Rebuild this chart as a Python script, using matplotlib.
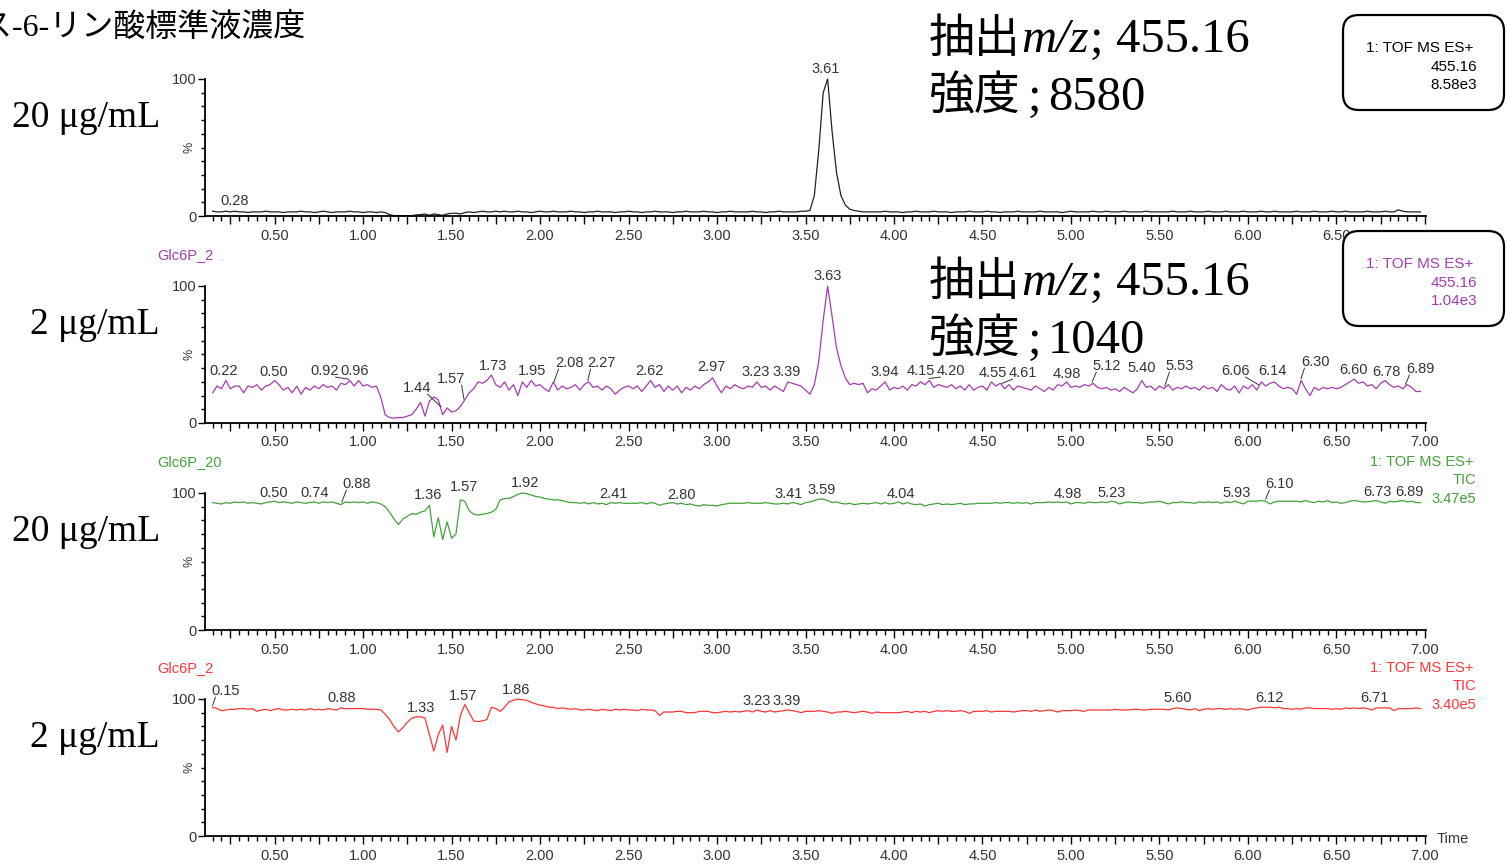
import numpy as np
import matplotlib
matplotlib.use("Agg")
import matplotlib.pyplot as plt
from matplotlib.ticker import MultipleLocator, FuncFormatter
from matplotlib.patches import FancyBboxPatch
from matplotlib.transforms import IdentityTransform

W, H = 1506, 864

#%% DATA
# scan times (min): one point every 0.025 min from 0.15 to 6.975
times = np.round(np.arange(0.15, 6.9751, 0.025), 3)

# XIC m/z 455.16, 20 ug/mL (% of max)
black_20_xic = [
    3.5, 3, 3, 3.5, 3, 3.5, 3, 3, 2.5, 3,
    3, 3, 3.5, 3, 3, 3, 2.5, 3, 3, 3,
    3.5, 3, 3, 2.5, 3, 3.5, 3, 2.5, 3, 3,
    3, 3.5, 3, 3, 2.5, 3, 3, 2.5, 3, 2.5,
    1, 0.3, 0.2, 0.2, 0.3, 0.2, 0.8, 1, 1.5, 0.5,
    1.5, 1, 0.5, 1.5, 2, 2, 1.5, 2.5, 3, 2.5,
    3, 3.5, 3, 3, 3.5, 3, 3.5, 3, 3, 3.5,
    3, 3, 2.5, 3, 3.5, 3, 3, 3.5, 3, 3,
    3, 3.5, 3, 3, 2.5, 3, 3, 3.5, 3, 3,
    3, 2.5, 3, 3, 3.5, 3, 3, 2.5, 3, 3,
    3.5, 3, 3, 3, 2.5, 3, 3, 3.5, 3, 3,
    3, 3.5, 3, 3, 2.5, 3, 3, 3.5, 3, 3,
    3, 3, 3.5, 3, 3, 2.5, 3, 3, 3.5, 3,
    3, 3, 3, 3.5, 3.5, 4, 15, 48, 90, 100,
    62, 32, 15, 8, 5, 4, 3.5, 3, 3, 3,
    3, 3, 3.5, 3, 3, 3, 2.5, 3, 3, 3.5,
    3, 3, 3, 3.5, 3, 3, 3, 2.5, 3, 3,
    3, 3.5, 3, 3, 3, 3.5, 3, 3, 2.5, 3,
    3, 3, 3.5, 3, 3, 3, 3, 3.5, 3, 3,
    3, 3, 2.5, 3, 3.5, 3, 3, 3, 3, 3.5,
    3, 3, 3.5, 3, 3, 3, 3.5, 3, 3, 3,
    3, 3.5, 3, 3, 3, 3, 3, 3.5, 3, 3,
    3, 3.5, 3, 3, 3, 3.5, 3, 3, 3, 3.5,
    3, 3, 3, 3.5, 3, 3, 3, 3.5, 3, 3,
    3.5, 3, 3, 3, 3, 3.5, 3, 3, 3, 3.5,
    3, 3, 3, 3.5, 3, 3, 3.5, 3, 3, 3,
    3, 3.5, 3, 3, 3, 3.5, 3, 3, 4.5, 3.5,
    3, 3, 3, 3,
]

# XIC m/z 455.16, 2 ug/mL
purple_2_xic = [
    22, 27, 25, 31, 25, 27, 27, 22, 27, 26,
    28, 24, 27, 28, 31, 28, 24, 26, 22, 27,
    21, 26, 24, 27, 25, 28, 26, 27, 24, 29,
    28, 31, 27, 31, 27, 28, 26, 27, 19, 6,
    4, 3.5, 4, 4, 5, 6, 10, 15, 5, 16,
    19, 17, 6, 11, 8, 9, 12, 17, 22, 25,
    30, 29, 31, 35, 28, 26, 30, 24, 28, 20,
    30, 26, 31, 27, 28, 25, 23, 30, 24, 27,
    25, 26, 28, 24, 28, 30, 26, 27, 24, 27,
    25, 21, 24, 26, 27, 25, 27, 23, 27, 31,
    26, 28, 23, 27, 24, 27, 22, 26, 24, 27,
    25, 28, 30, 33, 27, 22, 27, 25, 28, 26,
    25, 27, 26, 30, 26, 27, 24, 27, 25, 23,
    30, 29, 28, 27, 24, 21, 28, 45, 75, 100,
    78, 55, 42, 33, 28, 29, 28, 29, 22, 25,
    24, 27, 30, 24, 26, 25, 27, 24, 28, 27,
    30, 28, 31, 26, 28, 27, 26, 28, 25, 27,
    24, 28, 24, 26, 27, 24, 30, 27, 29, 25,
    28, 24, 27, 26, 25, 24, 27, 25, 23, 26,
    24, 28, 27, 30, 26, 27, 26, 28, 27, 29,
    26, 25, 26, 24, 25, 23, 26, 24, 22, 25,
    31, 26, 27, 24, 27, 25, 28, 24, 26, 25,
    27, 25, 26, 24, 27, 25, 26, 23, 28, 25,
    24, 27, 22, 27, 25, 28, 24, 30, 27, 29,
    30, 27, 25, 26, 25, 21, 31, 25, 20, 26,
    24, 26, 25, 26, 25, 26, 28, 30, 32, 29,
    30, 27, 28, 25, 29, 31, 28, 26, 27, 25,
    28, 26, 23, 23,
]

# TIC, 20 ug/mL
green_20_tic = [
    93, 92.5, 92, 93, 92.5, 93.5, 93, 93.5, 92.5, 93,
    92.5, 92, 93, 93.5, 94, 93, 93.5, 93, 92.5, 93.5,
    93, 92.5, 93, 93.5, 92.5, 93.5, 93, 93.5, 92.5, 91.5,
    93.5, 93, 93.5, 93, 93.5, 92.5, 93.5, 93, 92, 90,
    86, 81, 77, 81, 83, 85, 84.5, 86, 87, 91,
    68, 82, 66, 79, 67, 70, 95, 94, 87, 84.5,
    84, 84.5, 85, 86, 88, 95, 96, 96, 97.5, 99,
    100, 99.5, 98.5, 97.5, 97, 96, 95.5, 95, 95, 94.5,
    93.5, 93, 93, 92.5, 93, 92, 93, 92, 92.5, 91.5,
    93, 92.5, 93, 92.5, 92.5, 92.5, 92.5, 93, 92, 93,
    92.5, 91, 92, 92.5, 93, 92, 92.5, 91.5, 92, 91,
    90.5, 91.5, 91, 91, 90.5, 91.5, 92, 92.5, 92.5, 92.5,
    92.5, 93, 92.5, 92.5, 92.5, 93, 92.5, 92, 92, 92.5,
    92, 93, 92.5, 91.5, 93, 93.5, 94.5, 95.5, 95.5, 94.5,
    93, 93.5, 92.5, 92, 92.5, 91.5, 92, 92.5, 92, 92.5,
    93, 92, 93, 92, 92.5, 93.5, 92, 93, 92, 91.5,
    92, 90.5, 91.5, 92, 92.5, 91.5, 92, 91.5, 92, 92.5,
    91.5, 92, 92, 92.5, 92.5, 92.5, 92.5, 93, 92.5, 93,
    93, 92.5, 93, 92.5, 93, 92, 93, 93, 93, 93.5,
    93, 93.5, 93, 93.5, 92, 93, 93, 92.5, 93.5, 93,
    93, 93.5, 93, 94, 93.5, 92, 93, 93.5, 93, 93,
    92.5, 93, 93.5, 93.5, 94, 93, 92, 93, 93, 93.5,
    93, 93, 92.5, 93.5, 93, 93.5, 93, 93.5, 92.5, 93.5,
    93, 94, 93, 92, 94, 94, 94, 94.5, 94, 92,
    93.5, 94, 94, 94, 94, 94, 93.5, 94.5, 93.5, 93,
    94, 93.5, 94.5, 93, 93.5, 92.5, 93, 94, 94.5, 94,
    93.5, 93.5, 94, 94.5, 93.5, 92.5, 94, 93.5, 94, 94.5,
    93.5, 94, 93, 93,
]

# TIC, 2 ug/mL
red_2_tic = [
    94, 93, 91.5, 92, 92.5, 92.5, 93, 93, 92.5, 93,
    91, 92, 92.5, 91.5, 92.5, 93, 92, 92, 92.5, 92,
    92.5, 92, 93, 92, 92.5, 92, 93, 92.5, 92, 93.5,
    93, 93, 93, 93, 93, 92.5, 92.5, 92.5, 92, 89,
    85, 80, 76, 79, 83, 86, 87, 87, 86, 74,
    62, 74, 81, 61, 80, 70, 88, 96, 90, 84,
    83.5, 84, 85, 94, 93, 91, 94, 98, 99, 100,
    99.5, 99, 97.5, 96.5, 95.5, 95, 94, 94, 93, 93.5,
    93, 92.5, 93, 92, 92, 92.5, 92, 91.5, 92.5, 92,
    91.5, 92.5, 92, 92.5, 92, 92, 91.5, 92.5, 92, 92,
    91.5, 88, 90.5, 90.5, 90.5, 91, 91, 90, 90, 90,
    91, 91, 91, 90, 90, 90.5, 91, 90.5, 91, 90.5,
    91, 91.5, 90.5, 92, 91, 90.5, 91.5, 90.5, 91, 91.5,
    92, 91.5, 91, 90, 91, 91, 91, 91.5, 91, 90.5,
    89.5, 90.5, 90.5, 91, 90.5, 90, 90.5, 91, 90.5, 89.5,
    90.5, 90, 90, 90, 90, 90, 90.5, 91, 90, 91,
    90.5, 91, 90, 91, 91.5, 91, 91.5, 91, 91, 91.5,
    91, 89.5, 91, 91, 91, 91.5, 90.5, 91, 91, 91,
    91, 90.5, 91, 91.5, 91.5, 91, 92, 91, 91.5, 92,
    91.5, 90.5, 91.5, 91.5, 91.5, 92, 91.5, 91, 92, 92,
    92, 92, 92, 92, 92.5, 92, 92, 92, 92.5, 92.5,
    92, 92, 92.5, 92.5, 92.5, 92.5, 92, 93, 93.5, 93,
    92.5, 92, 93, 91.5, 92.5, 93, 92.5, 93, 93, 92.5,
    93, 92.5, 93, 92.5, 92, 93, 93.5, 94, 94, 94,
    93.5, 94, 93, 93, 92.5, 93, 92.5, 93.5, 93.5, 93,
    93, 93, 93, 92.5, 93, 92.5, 93.5, 93, 93.5, 93,
    93.5, 93, 92, 93.5, 93.5, 93.5, 93.5, 91.5, 93, 93,
    93, 93, 93.5, 93,
]

# peak labels: text (= retention time), label centre (time, %)
p1_peaks = ["0.28", "3.61"]
p1_lab_t = [0.277, 3.616]
p1_lab_y = [10.9, 107.3]

p2_peaks = ["0.22", "0.50", "0.92", "0.96", "1.44", "1.57", "1.73", "1.95", "2.08", "2.27",
            "2.62", "2.97", "3.23", "3.39", "3.63", "3.94", "4.15", "4.20", "4.55", "4.61",
            "4.98", "5.12", "5.40", "5.53", "6.06", "6.14", "6.30", "6.60", "6.78", "6.89"]
p2_lab_t = [0.215, 0.497, 0.785, 0.955, 1.305, 1.497, 1.734, 1.955, 2.164, 2.345,
            2.616, 2.966, 3.220, 3.395, 3.627, 3.949, 4.153, 4.322, 4.559, 4.729,
            4.977, 5.203, 5.401, 5.616, 5.927, 6.136, 6.379, 6.599, 6.785, 6.972]
p2_lab_y = [38, 37.2, 38, 38, 25.5, 32.1, 41.6, 38, 43.8, 43.8,
            38, 40.9, 37.2, 37.2, 107.3, 37.2, 38, 38, 36.5, 36.5,
            35.8, 41.6, 40.1, 41.6, 38, 38, 44.5, 38.7, 37.2, 39.4]

p3_peaks = ["0.50", "0.74", "0.88", "1.36", "1.57", "1.92", "2.41", "2.80", "3.41", "3.59",
            "4.04", "4.98", "5.23", "5.93", "6.10", "6.73", "6.89"]
p3_lab_t = [0.497, 0.729, 0.966, 1.367, 1.571, 1.915, 2.412, 2.802, 3.407, 3.593,
            4.040, 4.983, 5.232, 5.938, 6.181, 6.734, 6.915]
p3_lab_y = [100, 100, 106.6, 98.5, 104.4, 107.3, 99.3, 98.5, 99.3, 102.2,
            99.3, 99.3, 100, 100, 106.6, 100.7, 100.7]

p4_peaks = ["0.15", "0.88", "1.33", "1.57", "1.86", "3.23", "3.39", "5.60", "6.12", "6.71"]
p4_lab_t = [0.226, 0.881, 1.328, 1.565, 1.864, 3.226, 3.395, 5.605, 6.124, 6.712]
p4_lab_y = [105.8, 100.7, 93.4, 102.2, 106.6, 98.5, 98.5, 100.7, 100.7, 100.7]

sample_names = ["", "Glc6P_2", "Glc6P_20", "Glc6P_2"]
concentrations = ["20 μg/mL", "2 μg/mL", "20 μg/mL", "2 μg/mL"]
scale_texts = [["1: TOF MS ES+", "455.16", "8.58e3"],
               ["1: TOF MS ES+", "455.16", "1.04e3"],
               ["1: TOF MS ES+", "TIC", "3.47e5"],
               ["1: TOF MS ES+", "TIC", "3.40e5"]]
intensities = ["8580", "1040"]
colors = ["#222222", "#a63caf", "#44a03a", "#ff3535"]

traces = [black_20_xic, purple_2_xic, green_20_tic, red_2_tic]
labels = [(p1_peaks, p1_lab_t, p1_lab_y), (p2_peaks, p2_lab_t, p2_lab_y),
          (p3_peaks, p3_lab_t, p3_lab_y), (p4_peaks, p4_lab_t, p4_lab_y)]

#%% FIGURE
plt.rcParams['font.family'] = ['Liberation Sans', 'DejaVu Sans']
fig = plt.figure(figsize=(W / 100, H / 100), dpi=100)
fig.patch.set_facecolor('white')

serif = ['Liberation Serif', 'Noto Sans CJK JP']
cjk = ['Noto Sans CJK JP']
tick_col = '#333333'


def ftext(x, y, s, **kw):
    # place text by pixel position of the reference picture
    return fig.text(x / W, 1 - y / H, s, **kw)


def fmt_time(v, pos):
    if abs(v / 0.5 - round(v / 0.5)) < 1e-6:
        return "%.2f" % v
    return ""


zero_px = [216, 423, 630, 836]
box_bottom = [110, 326]
for i in range(4):
    y0 = zero_px[i]
    ax = fig.add_axes([205 / W, 1 - y0 / H, 1221 / W, 137 / H])
    ax.plot(times, traces[i], color=colors[i], lw=0.9, clip_on=False)
    ax.set_xlim(0.107, 7.006)
    ax.set_ylim(0, 100)
    for s in ['top', 'right']:
        ax.spines[s].set_visible(False)
    for s in ['left', 'bottom']:
        ax.spines[s].set_linewidth(1.3)
    ax.xaxis.set_major_locator(MultipleLocator(0.25))
    ax.xaxis.set_minor_locator(MultipleLocator(0.05))
    ax.xaxis.set_major_formatter(FuncFormatter(fmt_time))
    ax.set_yticks([0, 100])
    ax.set_yticklabels(["0", "100"])
    ax.yaxis.set_minor_locator(MultipleLocator(10))
    ax.tick_params(axis='x', which='major', length=6, width=1, pad=3,
                   labelsize=10.5, labelcolor=tick_col)
    ax.tick_params(axis='x', which='minor', length=3.5, width=1)
    ax.tick_params(axis='y', which='major', length=5, width=1, pad=1,
                   labelsize=10.5, labelcolor=tick_col)
    ax.tick_params(axis='y', which='minor', length=3, width=1)
    ax.text(-0.008, 0.5, "%", transform=ax.transAxes, rotation=90,
            ha='right', va='center', fontsize=9, color=tick_col)

    # peak labels with leader lines where shifted
    pk, lt, ly = labels[i]
    for txt, tx, ty in zip(pk, lt, ly):
        ax.text(tx, ty, txt, ha='center', va='center', fontsize=10.5,
                color=tick_col, clip_on=False)
        pt = float(txt)
        if abs(tx - pt) > 0.05:
            py = np.interp(pt, times, traces[i])
            sx = tx - 0.06 if pt < tx else tx + 0.06
            ax.plot([sx, pt], [ty - 4.5, py + 1.5], color=tick_col, lw=0.7,
                    clip_on=False)

    # left concentration label
    ftext(160, y0 - 98, concentrations[i], ha='right', va='center',
          family=serif, fontsize=27)

    # sample name
    if sample_names[i]:
        ftext(157, y0 - 168, sample_names[i], ha='left', va='center',
              fontsize=10.5, color=colors[i])

    # scale info at right
    st = scale_texts[i]
    if i < 2:
        col = colors[i] if i else 'black'
        box = FancyBboxPatch((1343, H - box_bottom[i]), 161, 95,
                             boxstyle="round,pad=0,rounding_size=16",
                             transform=IdentityTransform(), fc='white',
                             ec='black', lw=1.6, zorder=5)
        fig.add_artist(box)
        ftext(1473, box_bottom[i] - 62, st[0], ha='right', va='center',
              fontsize=11, color=col, zorder=6)
        ftext(1477, box_bottom[i] - 43, st[1], ha='right', va='center',
              fontsize=11, color=col, zorder=6)
        ftext(1477, box_bottom[i] - 25, st[2], ha='right', va='center',
              fontsize=11, color=col, zorder=6)
    else:
        ftext(1473, y0 - 168, st[0], ha='right', va='center', fontsize=10.5,
              color=colors[i])
        ftext(1476, y0 - 150, st[1], ha='right', va='center', fontsize=10.5,
              color=colors[i])
        ftext(1476, y0 - 131, st[2], ha='right', va='center', fontsize=10.5,
              color=colors[i])

# extracted m/z annotations on the XIC panels
for k, val in enumerate(intensities):
    b1 = 52 + 243 * k
    b2 = 110 + 243 * k
    ftext(929, b1, "抽出", family=cjk, fontsize=33, va='baseline')
    ftext(1021, b1, "m/z", family=serif, style='italic', fontsize=35, va='baseline')
    ftext(1090, b1, ";", family=serif, fontsize=35, va='baseline')
    ftext(1116, b1, "455.16", family=serif, fontsize=35, va='baseline')
    ftext(929, b2, "強度", family=cjk, fontsize=33, va='baseline')
    ftext(1028, b2, ";", family=serif, fontsize=35, va='baseline')
    ftext(1048, b2, val, family=serif, fontsize=35, va='baseline')

# page heading (cut off at the left edge like the source slide)
ftext(305, 36, "グルコース-6-リン酸標準液濃度", ha='right', va='baseline',
      family=serif, fontsize=23)

ftext(1437, 839, "Time", ha='left', va='center', fontsize=10.5, color=tick_col)

fig.savefig("out.png", dpi=100)
